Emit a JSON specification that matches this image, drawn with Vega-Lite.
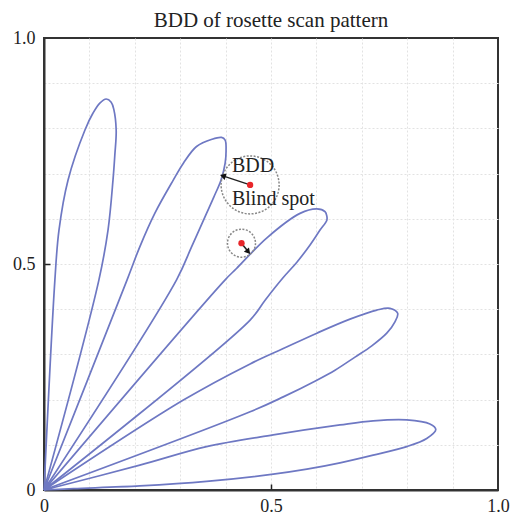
{
  "$schema": "https://vega.github.io/schema/vega-lite/v6.json",
  "width": 454,
  "height": 452,
  "autosize": {"type": "none"},
  "padding": {"left": 44, "top": 38, "right": 14, "bottom": 24},
  "background": "white",
  "title": {"text": "BDD of rosette scan pattern", "font": "Liberation Serif", "fontSize": 21, "fontWeight": "normal", "color": "#222", "anchor": "middle", "frame": "group", "offset": -2},
  "config": {"view": {"stroke": "#333", "strokeWidth": 2}},
  "datasets": {
    "petals": [
      {"petal": 1, "i": 0, "x": 0, "y": 0},
      {"petal": 1, "i": 1, "x": 0.024, "y": 0.465},
      {"petal": 1, "i": 2, "x": 0.033, "y": 0.575},
      {"petal": 1, "i": 3, "x": 0.053, "y": 0.686},
      {"petal": 1, "i": 4, "x": 0.090, "y": 0.796},
      {"petal": 1, "i": 5, "x": 0.108, "y": 0.834},
      {"petal": 1, "i": 6, "x": 0.123, "y": 0.856},
      {"petal": 1, "i": 7, "x": 0.137, "y": 0.865},
      {"petal": 1, "i": 8, "x": 0.148, "y": 0.858},
      {"petal": 1, "i": 9, "x": 0.154, "y": 0.841},
      {"petal": 1, "i": 10, "x": 0.159, "y": 0.796},
      {"petal": 1, "i": 11, "x": 0.156, "y": 0.741},
      {"petal": 1, "i": 12, "x": 0.152, "y": 0.686},
      {"petal": 1, "i": 13, "x": 0.141, "y": 0.575},
      {"petal": 1, "i": 14, "x": 0.121, "y": 0.465},
      {"petal": 1, "i": 15, "x": 0, "y": 0},
      {"petal": 2, "i": 0, "x": 0, "y": 0},
      {"petal": 2, "i": 1, "x": 0.183, "y": 0.465},
      {"petal": 2, "i": 2, "x": 0.211, "y": 0.538},
      {"petal": 2, "i": 3, "x": 0.244, "y": 0.612},
      {"petal": 2, "i": 4, "x": 0.285, "y": 0.686},
      {"petal": 2, "i": 5, "x": 0.307, "y": 0.723},
      {"petal": 2, "i": 6, "x": 0.336, "y": 0.760},
      {"petal": 2, "i": 7, "x": 0.370, "y": 0.776},
      {"petal": 2, "i": 8, "x": 0.391, "y": 0.780},
      {"petal": 2, "i": 9, "x": 0.399, "y": 0.774},
      {"petal": 2, "i": 10, "x": 0.401, "y": 0.750},
      {"petal": 2, "i": 11, "x": 0.399, "y": 0.723},
      {"petal": 2, "i": 12, "x": 0.390, "y": 0.686},
      {"petal": 2, "i": 13, "x": 0.374, "y": 0.648},
      {"petal": 2, "i": 14, "x": 0.358, "y": 0.612},
      {"petal": 2, "i": 15, "x": 0.325, "y": 0.538},
      {"petal": 2, "i": 16, "x": 0.292, "y": 0.465},
      {"petal": 2, "i": 17, "x": 0, "y": 0},
      {"petal": 3, "i": 0, "x": 0, "y": 0},
      {"petal": 3, "i": 1, "x": 0.399, "y": 0.465},
      {"petal": 3, "i": 2, "x": 0.424, "y": 0.490},
      {"petal": 3, "i": 3, "x": 0.491, "y": 0.558},
      {"petal": 3, "i": 4, "x": 0.564, "y": 0.612},
      {"petal": 3, "i": 5, "x": 0.601, "y": 0.622},
      {"petal": 3, "i": 6, "x": 0.619, "y": 0.616},
      {"petal": 3, "i": 7, "x": 0.623, "y": 0.606},
      {"petal": 3, "i": 8, "x": 0.623, "y": 0.597},
      {"petal": 3, "i": 9, "x": 0.608, "y": 0.575},
      {"petal": 3, "i": 10, "x": 0.586, "y": 0.542},
      {"petal": 3, "i": 11, "x": 0.557, "y": 0.504},
      {"petal": 3, "i": 12, "x": 0.526, "y": 0.469},
      {"petal": 3, "i": 13, "x": 0.487, "y": 0.420},
      {"petal": 3, "i": 14, "x": 0.454, "y": 0.376},
      {"petal": 3, "i": 15, "x": 0, "y": 0},
      {"petal": 4, "i": 0, "x": 0, "y": 0},
      {"petal": 4, "i": 1, "x": 0.307, "y": 0.199},
      {"petal": 4, "i": 2, "x": 0.454, "y": 0.279},
      {"petal": 4, "i": 3, "x": 0.527, "y": 0.313},
      {"petal": 4, "i": 4, "x": 0.601, "y": 0.347},
      {"petal": 4, "i": 5, "x": 0.674, "y": 0.378},
      {"petal": 4, "i": 6, "x": 0.733, "y": 0.398},
      {"petal": 4, "i": 7, "x": 0.762, "y": 0.402},
      {"petal": 4, "i": 8, "x": 0.779, "y": 0.391},
      {"petal": 4, "i": 9, "x": 0.773, "y": 0.372},
      {"petal": 4, "i": 10, "x": 0.755, "y": 0.347},
      {"petal": 4, "i": 11, "x": 0.722, "y": 0.319},
      {"petal": 4, "i": 12, "x": 0.685, "y": 0.294},
      {"petal": 4, "i": 13, "x": 0.641, "y": 0.265},
      {"petal": 4, "i": 14, "x": 0.601, "y": 0.243},
      {"petal": 4, "i": 15, "x": 0.527, "y": 0.206},
      {"petal": 4, "i": 16, "x": 0.454, "y": 0.173},
      {"petal": 4, "i": 17, "x": 0, "y": 0},
      {"petal": 5, "i": 0, "x": 0, "y": 0},
      {"petal": 5, "i": 1, "x": 0.211, "y": 0.055},
      {"petal": 5, "i": 2, "x": 0.358, "y": 0.096},
      {"petal": 5, "i": 3, "x": 0.505, "y": 0.122},
      {"petal": 5, "i": 4, "x": 0.652, "y": 0.144},
      {"petal": 5, "i": 5, "x": 0.725, "y": 0.153},
      {"petal": 5, "i": 6, "x": 0.799, "y": 0.155},
      {"petal": 5, "i": 7, "x": 0.850, "y": 0.146},
      {"petal": 5, "i": 8, "x": 0.863, "y": 0.134},
      {"petal": 5, "i": 9, "x": 0.843, "y": 0.114},
      {"petal": 5, "i": 10, "x": 0.799, "y": 0.096},
      {"petal": 5, "i": 11, "x": 0.725, "y": 0.077},
      {"petal": 5, "i": 12, "x": 0.652, "y": 0.060},
      {"petal": 5, "i": 13, "x": 0.579, "y": 0.046},
      {"petal": 5, "i": 14, "x": 0.505, "y": 0.035},
      {"petal": 5, "i": 15, "x": 0.358, "y": 0.019},
      {"petal": 5, "i": 16, "x": 0.211, "y": 0.009},
      {"petal": 5, "i": 17, "x": 0.065, "y": 0.003},
      {"petal": 5, "i": 18, "x": 0, "y": 0}
    ],
    "spots": [
      {"kind": "big", "x": 0.454, "y": 0.675},
      {"kind": "small", "x": 0.435, "y": 0.546}
    ],
    "arrows": [
      {"kind": "big", "x": 0.454, "y": 0.675, "x2": 0.394, "y2": 0.695},
      {"kind": "small", "x": 0.435, "y": 0.546, "x2": 0.450, "y2": 0.527}
    ],
    "labels": [
      {"text": "BDD", "x": 0.414, "y": 0.704},
      {"text": "Blind spot", "x": 0.414, "y": 0.631}
    ]
  },
  "encoding": {
    "x": {"field": "x", "type": "quantitative", "scale": {"domain": [0, 1], "nice": false, "zero": false},
      "axis": {"title": null, "values": [0, 0.1, 0.2, 0.3, 0.4, 0.5, 0.6, 0.7, 0.8, 0.9, 1.0],
        "labelExpr": "datum.value == 0 ? '0' : datum.value == 0.5 ? '0.5' : datum.value == 1 ? '1.0' : ''",
        "labelFont": "Liberation Serif", "labelFontSize": 18, "labelColor": "#222", "labelFlush": false, "labelOverlap": false, "labelPadding": 13,
        "grid": true, "gridColor": "#e2e2e2", "gridDash": [2, 2], "gridWidth": 1,
        "gridOpacity": {"condition": {"test": "datum.value == 0 || datum.value == 1", "value": 0}, "value": 1},
        "domain": true, "domainColor": "#333", "domainWidth": 2,
        "ticks": true, "tickSize": -6, "tickColor": "#222", "tickWidth": 1.5,
        "tickOpacity": {"condition": {"test": "datum.value == 0.5", "value": 1}, "value": 0}}},
    "y": {"field": "y", "type": "quantitative", "scale": {"domain": [0, 1], "nice": false, "zero": false},
      "axis": {"title": null, "values": [0, 0.1, 0.2, 0.3, 0.4, 0.5, 0.6, 0.7, 0.8, 0.9, 1.0],
        "labelExpr": "datum.value == 0 ? '0' : datum.value == 0.5 ? '0.5' : datum.value == 1 ? '1.0' : ''",
        "labelFont": "Liberation Serif", "labelFontSize": 18, "labelColor": "#222", "labelFlush": false, "labelOverlap": false, "labelPadding": 15,
        "grid": true, "gridColor": "#e2e2e2", "gridDash": [2, 2], "gridWidth": 1,
        "gridOpacity": {"condition": {"test": "datum.value == 0 || datum.value == 1", "value": 0}, "value": 1},
        "domain": true, "domainColor": "#333", "domainWidth": 2,
        "ticks": true, "tickSize": -6, "tickColor": "#222", "tickWidth": 1.5,
        "tickOpacity": {"condition": {"test": "datum.value == 0.5", "value": 1}, "value": 0}}}
  },
  "layer": [
    {
      "data": {"name": "petals"},
      "mark": {"type": "line", "color": "#6e78c3", "strokeWidth": 1.7, "interpolate": "catmull-rom"},
      "encoding": {"detail": {"field": "petal", "type": "nominal"}, "order": {"field": "i", "type": "quantitative"}}
    },
    {
      "data": {"name": "spots"},
      "mark": {"type": "point", "filled": false, "shape": "circle", "stroke": "#888", "strokeWidth": 1.5, "strokeDash": [2, 1.5], "opacity": 1},
      "encoding": {"size": {"field": "kind", "type": "nominal", "scale": {"domain": ["big", "small"], "range": [3364, 784]}, "legend": null}}
    },
    {
      "data": {"name": "arrows"},
      "mark": {"type": "rule", "color": "#222", "strokeWidth": 1.5},
      "encoding": {"x2": {"field": "x2"}, "y2": {"field": "y2"}}
    },
    {
      "data": {"name": "arrows"},
      "mark": {"type": "point", "shape": "triangle-up", "filled": true, "color": "#111", "opacity": 1, "size": 45},
      "encoding": {
        "x": {"field": "x2", "type": "quantitative"},
        "y": {"field": "y2", "type": "quantitative"},
        "angle": {"field": "kind", "type": "nominal", "scale": {"domain": ["big", "small"], "range": [288, 140]}, "legend": null}
      }
    },
    {
      "data": {"name": "spots"},
      "mark": {"type": "point", "shape": "circle", "filled": true, "color": "#e8262a", "opacity": 1, "size": 40}
    },
    {
      "data": {"name": "labels"},
      "mark": {"type": "text", "font": "Liberation Serif", "fontSize": 20, "color": "#222", "align": "left", "baseline": "alphabetic"},
      "encoding": {"text": {"field": "text", "type": "nominal"}}
    }
  ]
}
